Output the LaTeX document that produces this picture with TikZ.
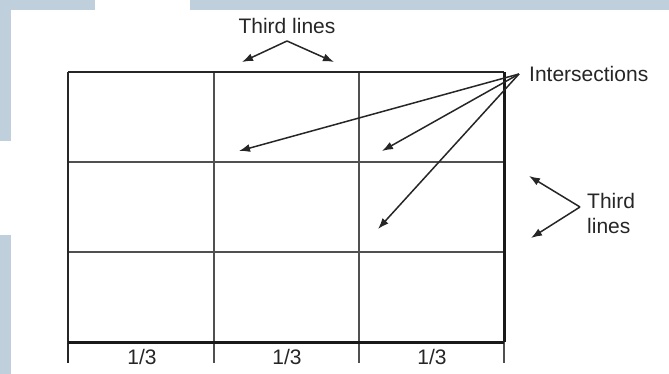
\documentclass[tikz,border=0pt]{standalone}
\usepackage{fontspec}
\setmainfont{Liberation Sans}
\usetikzlibrary{arrows.meta}
\definecolor{band}{HTML}{C0CFDC}
\definecolor{ink}{HTML}{262626}
\definecolor{gridc}{HTML}{505050}
\tikzset{
  lbl/.style={text=ink, font=\fontsize{21}{25}\selectfont, inner sep=0pt},
  gridline/.style={draw=gridc, line width=1.8pt},
  borderline/.style={draw=ink, line width=1.8pt},
  thickborder/.style={draw=black!90, line width=3pt},
  pointer/.style={draw=ink, line width=1.5pt, -{Latex[length=11pt,width=8pt]}},
}
\begin{document}
\begin{tikzpicture}[x=1pt,y=-1pt]
\useasboundingbox (0,0) rectangle (669,374);
% background bands
\fill[band] (0,0) rectangle (95,10);
\fill[band] (190,0) rectangle (669,10);
\fill[band] (0,10) rectangle (11,141);
\fill[band] (0,235) rectangle (11,374);
% grid coordinates
\coordinate (tl) at (68,72);
\coordinate (tr) at (504,72);
\coordinate (bl) at (68,342);
\coordinate (br) at (504,342);
\coordinate (v1t) at (214,72);
\coordinate (v2t) at (359,72);
\coordinate (h1l) at (68,162);
\coordinate (h1r) at (504,162);
\coordinate (h2l) at (68,252);
\coordinate (h2r) at (504,252);
\coordinate (t0) at (68,363);
\coordinate (t1) at (214,363);
\coordinate (t2) at (359,363);
\coordinate (t3) at (504,363);
% inner lines
\draw[gridline] (v1t) -- (t1);
\draw[gridline] (v2t) -- (t2);
\draw[gridline] (h1l) -- (h1r);
\draw[gridline] (h2l) -- (h2r);
% border
\draw[borderline] (tl) -- (tr);
\draw[borderline] (tl) -- (t0);
\draw[gridline] (br) -- (t3);
\draw[thickborder] (tr) -- (br);
\draw[thickborder] (bl) -- (br);
% bottom labels
\node[lbl] (f1) at (142,357) {1/3};
\node[lbl] (f2) at (287,357) {1/3};
\node[lbl] (f3) at (432,357) {1/3};
% top third lines
\node[lbl] (tt) at (287,26) {Third lines};
\coordinate (tapex) at (287,41);
\coordinate (ta1) at (242,62);
\coordinate (ta2) at (334,62);
\draw[pointer] (tapex) -- (ta1);
\draw[pointer] (tapex) -- (ta2);
% intersections
\node[lbl, anchor=west] (it) at (529,74) {Intersections};
\coordinate (isrc) at (519,74);
\coordinate (i1) at (239,151);
\coordinate (i2) at (382,151);
\coordinate (i3) at (378,229);
\draw[pointer] (isrc) -- (i1);
\draw[pointer] (isrc) -- (i2);
\draw[pointer] (isrc) -- (i3);
% right third lines
\node[lbl, anchor=west, align=left] (rt) at (587,213) {Third\\lines};
\coordinate (rapex) at (580,207);
\coordinate (ra1) at (529,176);
\coordinate (ra2) at (531,238);
\draw[pointer] (rapex) -- (ra1);
\draw[pointer] (rapex) -- (ra2);
\end{tikzpicture}
\end{document}
